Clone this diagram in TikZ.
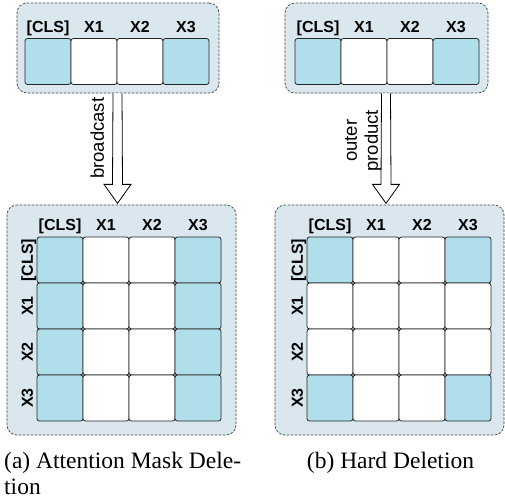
\documentclass[tikz,border=0pt]{standalone}
\usepackage{fontspec}
\setmainfont{Liberation Serif}
\setsansfont{Liberation Sans}
\usetikzlibrary{positioning,calc}
\definecolor{panelblue}{HTML}{DAE7EF}
\definecolor{cellblue}{HTML}{B1DEEB}

\begin{document}
\begin{tikzpicture}
		[x=1pt,y=-1pt,
		panel/.style={draw=black!75,dash pattern=on 2.5pt off 1.5pt,line width=0.7pt,fill=panelblue,rounded corners=10pt,inner sep=0pt},
		cell/.style={draw=black!85,line width=0.8pt,rounded corners=2.5pt,minimum size=46pt,inner sep=0pt,outer sep=0pt},
		tok/.style={font=\sffamily\bfseries\fontsize{16}{16}\selectfont,inner sep=0pt,text height=11.5pt,text depth=0pt},
		op/.style={font=\sffamily\fontsize{18.5}{21}\selectfont,rotate=90,align=center,inner sep=0pt,text depth=0pt,anchor=south},
		subcap/.style={font=\fontsize{23.5}{25.5}\selectfont,inner sep=0pt,align=left},
		block/.style={draw=black,fill=white,line width=0.8pt,line join=miter}]
		\useasboundingbox (0,0) rectangle (505,501);
		\node[panel,minimum width=202pt,minimum height=90pt] (topA) at (118,48) {};
		\node[panel,minimum width=229pt,minimum height=230pt] (botA) at (121.5,320) {};
		\node[panel,minimum width=203pt,minimum height=90pt] (topB) at (386.5,48) {};
		\node[panel,minimum width=229pt,minimum height=230pt] (botB) at (389.5,320) {};
		\node[cell,fill=cellblue] (a0) at (48,61.5) {};
		\node[cell,fill=white,right=0pt of a0] (a1) {};
		\node[cell,fill=white,right=0pt of a1] (a2) {};
		\node[cell,fill=cellblue,right=0pt of a2] (a3) {};
		\node[cell,fill=cellblue] (b0) at (318,61.5) {};
		\node[cell,fill=white,right=0pt of b0] (b1) {};
		\node[cell,fill=white,right=0pt of b1] (b2) {};
		\node[cell,fill=cellblue,right=0pt of b2] (b3) {};
		\foreach \pat [count=\r from 0] in {{cellblue,white,white,cellblue},{cellblue,white,white,cellblue},{cellblue,white,white,cellblue},{cellblue,white,white,cellblue}}
			\foreach \s [count=\c from 0] in \pat
				\node[cell,fill=\s] (ma\r\c) at (60+46*\c,260+46*\r) {};
		\foreach \pat [count=\r from 0] in {{cellblue,white,white,cellblue},{white,white,white,white},{white,white,white,white},{cellblue,white,white,cellblue}}
			\foreach \s [count=\c from 0] in \pat
				\node[cell,fill=\s] (mb\r\c) at (330+46*\c,260+46*\r) {};
		\foreach \t [count=\c from 0] in {[CLS],X1,X2,X3} {
			\node[tok,above=6pt of a\c] (la\c) {\t};
			\node[tok,above=6pt of b\c] (lb\c) {\t};
			\node[tok,above=6pt of ma0\c] (ca\c) {\t};
			\node[tok,above=6pt of mb0\c] (cb\c) {\t};
			\node[tok,rotate=90,anchor=south] (ra\c) at ($(ma\c0.west)+(-4,0)$) {\t};
			\node[tok,rotate=90,anchor=south] (rb\c) at ($(mb\c0.west)+(-4,0)$) {\t};
		}
		\foreach \t/\b in {topA/botA,topB/botB} {
			\coordinate (tip\t) at ($(\t.south)+(-0.5,110)$);
			\draw[block] ($(\t.south)+(-5,0)$) -- ($(tip\t)+(-5,-19)$) -- ($(tip\t)+(-13.5,-19)$) -- (tip\t)
				-- ($(tip\t)+(13.5,-19)$) -- ($(tip\t)+(5,-19)$) -- ($(\t.south)+(4,0)$);
		}
		\node[op] (opA) at ($(topA.south)+(-14,45)$) {broadcast};
		\node[op] (opB) at ($(topB.south)+(-8.5,47.5)$) {outer\\product};
		\node[subcap,anchor=north west] (capA) at (4,452) {(a) Attention Mask Dele-\\tion};
		\node[subcap,anchor=base] (capB) at (390.5,468) {(b) Hard Deletion};
\end{tikzpicture}
\end{document}
